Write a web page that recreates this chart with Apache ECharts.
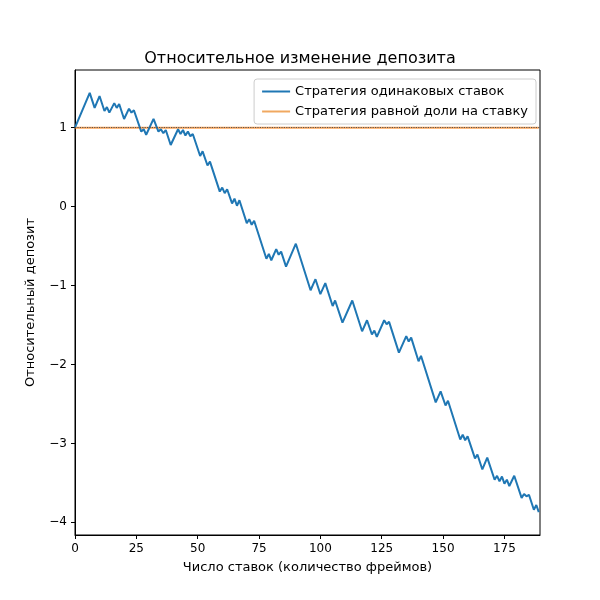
<!DOCTYPE html>
<html>
<head>
<meta charset="utf-8">
<script src="https://cdn.jsdelivr.net/npm/echarts@6/dist/echarts.min.js"></script>
<style>html,body{margin:0;padding:0;background:#fff}#chart{width:600px;height:600px}</style>
</head>
<body>
<div id="chart"></div>
<script>
// вершины ломаной (число ставок)
const betX = [0, 6, 8, 10, 12, 13, 14, 16, 17, 18, 20, 22, 23, 24, 27, 28, 29, 32, 34, 35, 36, 37, 39, 42, 43, 44, 45, 46, 47, 48,
  51, 52, 54, 55, 59, 60, 61, 62, 64, 65, 66, 67, 70, 71, 72, 73, 78, 79, 80, 82, 83, 84, 86, 90, 96, 98, 100, 102, 105, 106,
  109, 113, 117, 119, 121, 122, 123, 126, 127, 128, 132, 135, 136, 137, 140, 141, 147, 149, 151, 152, 157, 158, 159, 160,
  163, 164, 166, 168, 171, 172, 173, 174, 175, 176, 177, 179, 182, 183, 184, 185, 187, 188, 189];
// относительный депозит, стратегия одинаковых ставок
const equalBet = [1.0, 1.44, 1.25, 1.40, 1.21, 1.26, 1.19, 1.31, 1.25, 1.30, 1.11, 1.24, 1.19, 1.22, 0.95, 0.98, 0.91, 1.11, 0.95, 0.98, 0.93, 0.97, 0.78, 0.98, 0.92, 0.97, 0.90, 0.95, 0.89, 0.92,
  0.64, 0.70, 0.52, 0.57, 0.19, 0.24, 0.17, 0.22, 0.04, 0.10, 0.01, 0.08, -0.21, -0.16, -0.23, -0.18, -0.66, -0.60, -0.68, -0.54, -0.61, -0.57, -0.76, -0.47, -1.06, -0.92, -1.11, -0.97, -1.26, -1.19,
  -1.47, -1.19, -1.58, -1.44, -1.62, -1.57, -1.65, -1.44, -1.49, -1.46, -1.85, -1.64, -1.71, -1.66, -1.96, -1.89, -2.48, -2.34, -2.52, -2.46, -2.95, -2.89, -2.96, -2.91,
  -3.19, -3.14, -3.33, -3.18, -3.46, -3.41, -3.48, -3.42, -3.51, -3.46, -3.54, -3.41, -3.69, -3.64, -3.67, -3.65, -3.84, -3.78, -3.87];
// стратегия равной доли на ставку
const shareX = [0, 189];
const shareBet = [1, 1];
const xTicks = [0, 25, 50, 75, 100, 125, 150, 175];
const yTicks = [-4, -3, -2, -1, 0, 1];

const font = 'DejaVu Sans';
const chart = echarts.init(document.getElementById('chart'));
chart.setOption({
  animation: false,
  textStyle: { fontFamily: font },
  title: {
    text: 'Относительное изменение депозита', left: 'center', top: 46,
    textStyle: { fontFamily: font, fontSize: 16, fontWeight: 'normal', color: '#000' }
  },
  legend: {
    right: 64, top: 79, orient: 'vertical', itemGap: 7, itemWidth: 28, itemHeight: 2,
    padding: [6, 8], borderColor: '#ccc', borderWidth: 1, borderRadius: 3,
    icon: 'rect', textStyle: { fontFamily: font, fontSize: 13, color: '#000' },
    data: ['Стратегия одинаковых ставок', 'Стратегия равной доли на ставку']
  },
  grid: { left: 75, right: 60, top: 70, bottom: 65, show: true, borderColor: '#000', borderWidth: 1 },
  xAxis: {
    type: 'value', min: 0, max: 189.5,
    name: 'Число ставок (количество фреймов)', nameLocation: 'middle', nameGap: 26,
    nameTextStyle: { fontFamily: font, fontSize: 13, color: '#000' },
    axisLine: { onZero: false, lineStyle: { color: '#000' } },
    axisTick: { length: 4, customValues: xTicks, lineStyle: { color: '#000' } },
    axisLabel: { color: '#000', fontSize: 12, fontFamily: font, customValues: xTicks },
    splitLine: { show: false }
  },
  yAxis: {
    type: 'value', min: -4.16, max: 1.73,
    name: 'Относительный депозит', nameLocation: 'middle', nameGap: 38,
    nameTextStyle: { fontFamily: font, fontSize: 13, color: '#000' },
    axisLine: { show: true, onZero: false, lineStyle: { color: '#000' } },
    axisTick: { show: true, length: 4, customValues: yTicks, lineStyle: { color: '#000' } },
    axisLabel: { color: '#000', fontSize: 12, fontFamily: font, customValues: yTicks,
      formatter: v => (v < 0 ? '\u2212' + Math.abs(v) : String(v)) },
    splitLine: { show: false }
  },
  series: [
    {
      name: 'Стратегия одинаковых ставок', type: 'line', symbol: 'none',
      data: betX.map((x, i) => [x, equalBet[i]]),
      lineStyle: { color: '#1f77b4', width: 2 }, itemStyle: { color: '#1f77b4' }, z: 3
    },
    {
      name: 'Стратегия равной доли на ставку', type: 'line', symbol: 'none',
      data: shareX.map((x, i) => [x, shareBet[i]]),
      lineStyle: { color: '#ff7f0e', width: 2, opacity: 0.7 }, itemStyle: { color: '#f0a860' }, z: 2,
      markLine: {
        silent: true, symbol: 'none', label: { show: false },
        lineStyle: { color: '#555', type: 'dotted', width: 1.2 },
        data: [{ yAxis: 1 }]
      }
    }
  ]
});
</script>
</body>
</html>
